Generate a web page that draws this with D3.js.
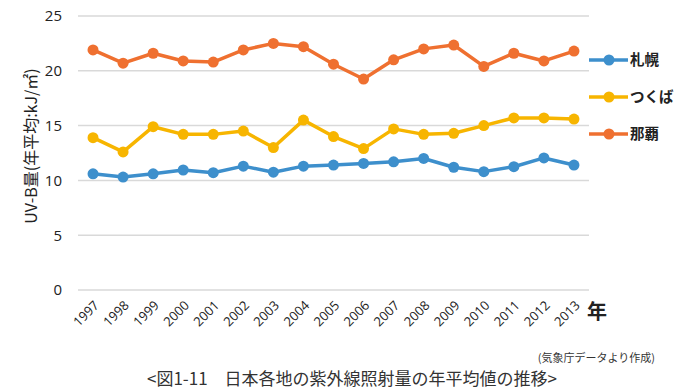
<!DOCTYPE html>
<html>
<head>
<meta charset="utf-8">
<title>UV-B</title>
<script src="https://d3js.org/d3.v7.min.js"></script>
<style>
  body { margin: 0; background: #fff; }
  svg text { font-family: "Noto Sans CJK JP", "Noto Sans", sans-serif; }
</style>
</head>
<body>
<div id="chart"></div>
<script>
// data
var years = ["1997","1998","1999","2000","2001","2002","2003","2004","2005","2006","2007","2008","2009","2010","2011","2012","2013"];
var sapporo = [10.6,10.3,10.6,10.95,10.7,11.3,10.75,11.3,11.4,11.55,11.7,12.0,11.2,10.8,11.25,12.05,11.4];
var tsukuba = [13.9,12.6,14.9,14.2,14.2,14.5,13.0,15.5,14.0,12.9,14.7,14.2,14.3,15.0,15.7,15.7,15.6];
var naha = [21.9,20.7,21.6,20.9,20.8,21.9,22.5,22.2,20.6,19.25,21.0,22.0,22.35,20.4,21.6,20.9,21.8];
var yTicks = [0,5,10,15,20,25];

var series = [
  {name: "札幌", values: sapporo, color: "#3d8fcc"},
  {name: "つくば", values: tsukuba, color: "#f7b500"},
  {name: "那覇", values: naha, color: "#ef7030"}
];

var W = 680, H = 389;
var plotLeft = 78, plotRight = 589, plotTop = 16, plotBottom = 290;

var svg = d3.select("#chart").append("svg")
  .attr("width", W).attr("height", H);

var x = d3.scalePoint().domain(years).range([plotLeft, plotRight]).padding(0.5);
var y = d3.scaleLinear().domain([0, 25]).range([plotBottom, plotTop]);

// grid lines
svg.append("g").selectAll("line")
  .data(yTicks).enter().append("line")
    .attr("x1", plotLeft).attr("x2", plotRight)
    .attr("y1", function(d) { return y(d); })
    .attr("y2", function(d) { return y(d); })
    .attr("stroke", "#d9d9d9").attr("stroke-width", 1.5);

// y axis
var yAxis = svg.append("g")
  .attr("transform", "translate(" + (plotLeft - 10) + ",0)")
  .call(d3.axisLeft(y).tickValues(yTicks).tickSize(0).tickPadding(6));
yAxis.select(".domain").remove();
yAxis.selectAll("text").attr("font-size", 15).attr("fill", "#222")
  .style("font-family", "'Open Sans', sans-serif");

// x axis, rotated labels
var xAxis = svg.append("g")
  .attr("transform", "translate(0," + plotBottom + ")")
  .call(d3.axisBottom(x).tickSize(0).tickPadding(0));
xAxis.select(".domain").remove();
xAxis.selectAll("text")
  .attr("font-size", 13).attr("fill", "#222")
  .style("font-family", "'Open Sans', sans-serif")
  .attr("text-anchor", "end")
  .attr("y", 0)
  .attr("dy", "0.35em")
  .attr("transform", "translate(3,13) rotate(-45)");

// lines + markers
var line = d3.line()
  .x(function(d, i) { return x(years[i]); })
  .y(function(d) { return y(d); });

series.forEach(function(s) {
  svg.append("path")
    .datum(s.values)
    .attr("d", line)
    .attr("fill", "none")
    .attr("stroke", s.color)
    .attr("stroke-width", 3.5)
    .attr("stroke-linejoin", "round");
  svg.append("g").selectAll("circle")
    .data(s.values).enter().append("circle")
      .attr("cx", function(d, i) { return x(years[i]); })
      .attr("cy", function(d) { return y(d); })
      .attr("r", 5.5)
      .attr("fill", s.color);
});

// legend
var legendY = [60, 97, 134];
var legend = svg.append("g").selectAll("g")
  .data(series).enter().append("g")
  .attr("transform", function(d, i) { return "translate(589," + legendY[i] + ")"; });
legend.append("line")
  .attr("x1", 0).attr("x2", 39)
  .attr("stroke", function(d) { return d.color; })
  .attr("stroke-width", 3.5);
legend.append("circle")
  .attr("cx", 20).attr("r", 5.5)
  .attr("fill", function(d) { return d.color; });
legend.append("text")
  .attr("x", 41).attr("dy", "0.36em")
  .attr("font-size", 14.5).attr("font-weight", "bold").attr("fill", "#222")
  .text(function(d) { return d.name; });

// axis titles
svg.append("text")
  .attr("transform", "translate(37,146) rotate(-90)")
  .attr("text-anchor", "middle")
  .attr("font-size", 16).attr("fill", "#222")
  .text("UV-B量(年平均:kJ/㎡)");

svg.append("text")
  .attr("x", 587).attr("y", 319)
  .attr("font-size", 20).attr("font-weight", "bold").attr("fill", "#222")
  .text("年");

// source + caption
svg.append("text")
  .attr("x", 655).attr("y", 362)
  .attr("text-anchor", "end")
  .attr("font-size", 11).attr("fill", "#333")
  .text("(気象庁データより作成)");

svg.append("text")
  .attr("x", 352).attr("y", 385)
  .attr("text-anchor", "middle")
  .attr("font-size", 17).attr("fill", "#333")
  .text("<図1-11\u3000日本各地の紫外線照射量の年平均値の推移>");
</script>
</body>
</html>
